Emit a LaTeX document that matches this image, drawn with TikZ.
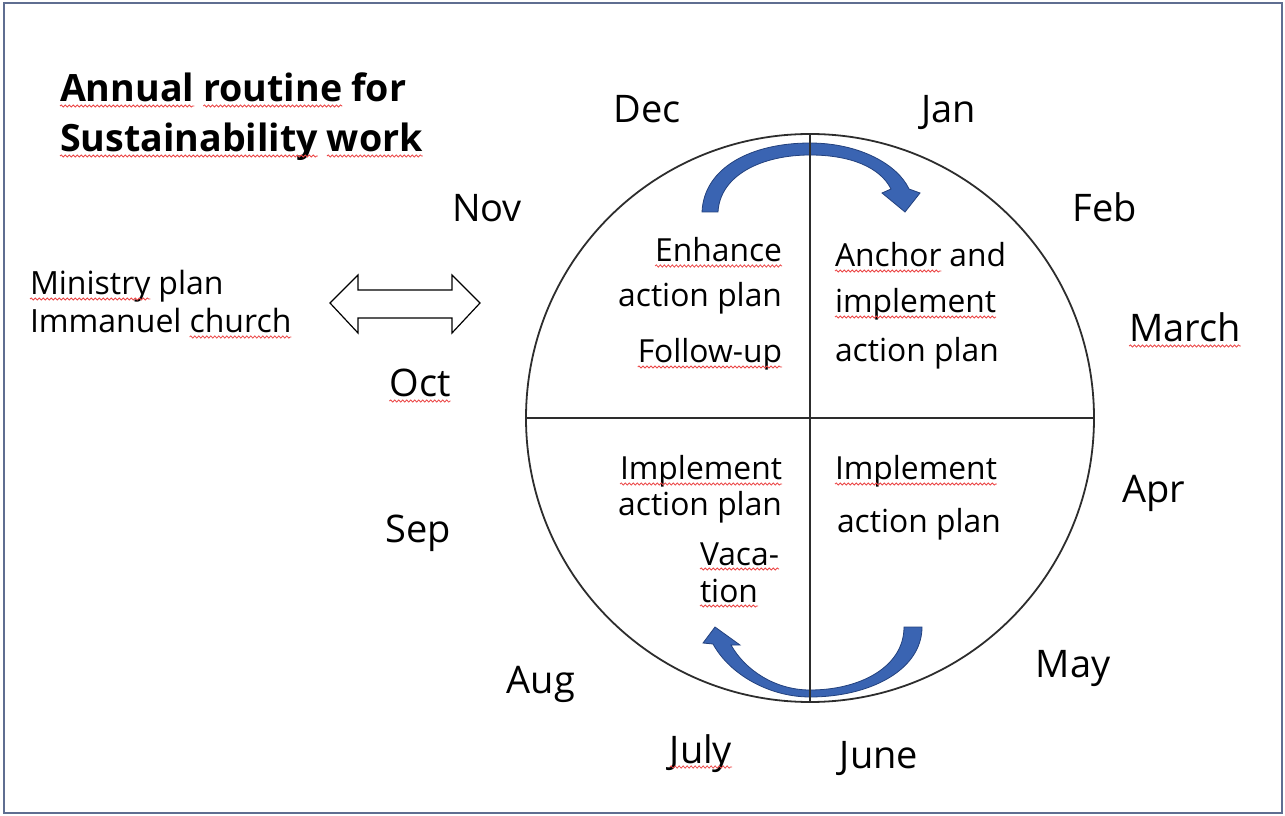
\documentclass[tikz,border=0pt]{standalone}
\usepackage{fontspec}
\setmainfont{Open Sans}
\usetikzlibrary{decorations.pathmorphing}
\definecolor{wavered}{RGB}{235,70,70}
\definecolor{framecol}{RGB}{95,110,145}
\definecolor{arrowblue}{RGB}{58,100,178}
\definecolor{arrowedge}{RGB}{35,65,125}
\definecolor{ringgray}{RGB}{45,45,45}
\begin{document}
\begin{tikzpicture}[x=1pt,y=1pt,
  every node/.style={inner sep=0pt, outer sep=0pt},
  month/.style={font=\fontsize{38}{44}\selectfont, anchor=base},
  qe/.style={font=\fontsize{31.8}{36}\selectfont, anchor=base east},
  qw/.style={font=\fontsize{31.8}{36}\selectfont, anchor=base west},
  side/.style={font=\fontsize{32}{38}\selectfont, anchor=base west},
  ttl/.style={font=\fontsize{37.6}{44}\selectfont\bfseries, anchor=base west},
  bluearrow/.style={fill=arrowblue, draw=arrowedge, line width=0.8pt},
  ring/.style={draw=ringgray, line width=1.8pt},
  wave/.style={draw=wavered, line width=0.8pt, decorate,
    decoration={snake, amplitude=1.1pt, segment length=4pt}},
]
\useasboundingbox (0,0) rectangle (1285,815);
\draw[framecol, line width=2pt] (4,2) rectangle (1282,812);

% title
\node[ttl] (t1a) at (60,713) {Annual};
\node[ttl] (t1b) at ([xshift=9pt]t1a.base east) {routine};
\node[ttl] (t1c) at ([xshift=9pt]t1b.base east) {for};
\node[ttl] (t2a) at (60,663) {Sustainability};
\node[ttl] (t2b) at ([xshift=9pt]t2a.base east) {work};

% side text
\node[side] (s1a) at (30,520) {Ministry};
\node[side] (s1b) at ([xshift=8pt]s1a.base east) {plan};
\node[side] (s2a) at (30,482) {Immanuel};
\node[side] (s2b) at ([xshift=8pt]s2a.base east) {church};

% double arrow
\draw[line width=1.2pt, fill=white, line join=miter]
  (330,512) -- (358,540) -- (358,525) -- (452,525) -- (452,540) -- (480,512)
  -- (452,482) -- (452,497) -- (358,497) -- (358,482) -- cycle;

% blue curved arrows
\path[bluearrow]
  (702,603) .. controls (704,648) and (752,672) .. (810,672)
  .. controls (860,672) and (898,650) .. (909,626)
  -- (920,622) -- (905,603) -- (882,622) -- (891,626)
  .. controls (880,648) and (850,660) .. (810,660)
  .. controls (762,660) and (720,640) .. (718,603) -- cycle;
\path[bluearrow]
  (922,188) .. controls (922,145) and (870,118) .. (810,118)
  .. controls (770,118) and (730,140) .. (713,171)
  -- (703,172) -- (715,188) -- (740,170) -- (731,170)
  .. controls (745,145) and (775,125) .. (810,125)
  .. controls (860,125) and (904,148) .. (904,188) -- cycle;

% circle and quadrants
\node[ring, circle, minimum size=568pt] (c) at (810,397) {};
\draw[ring] (c.north) -- (c.south);
\draw[ring] (c.west) -- (c.east);

% quadrant texts
\node[qe] (q1a) at (782,553) {Enhance};
\node[qe] (q1b) at (782,508) {action plan};
\node[qe] (q1c) at (782,452) {Follow-up};
\node[qw] (q2a) at (835,548) {Anchor};
\node[qw] (q2d) at ([xshift=8pt]q2a.base east) {and};
\node[qw] (q2b) at (835,502) {implement};
\node[qw] (q2c) at (835,453) {action plan};
\node[qe] (q3a) at (782,335) {Implement};
\node[qe] (q3b) at (782,300) {action plan};
\node[qw] (q3c) at (700,250) {Vaca-};
\node[qw] (q3d) at (700,213) {tion};
\node[qw] (q4a) at (835,335) {Implement};
\node[qw] (q4b) at (837,283) {action plan};

% months
\node[month] (dec) at (647,692) {Dec};
\node[month] (jan) at (949,692) {Jan};
\node[month] (nov) at (487,593) {Nov};
\node[month] (feb) at (1105,593) {Feb};
\node[month] (mar) at (1185,473) {March};
\node[month] (oct) at (420,418) {Oct};
\node[month] (apr) at (1154,313) {Apr};
\node[month] (sep) at (418,273) {Sep};
\node[month] (may) at (1073,138) {May};
\node[month] (aug) at (541,122) {Aug};
\node[month] (jul) at (701,52) {July};
\node[month] (jun) at (879,47) {June};

% spell-check squiggles
\foreach \w in {t1a,t1b,t2a,t2b,s1a,s2b,q1a,q1c,q2a,q2b,q3a,q3c,q3d,q4a,mar,oct,jul}
  \draw[wave] ([yshift=-4pt]\w.base west) -- ([yshift=-4pt]\w.base east);
\end{tikzpicture}
\end{document}
